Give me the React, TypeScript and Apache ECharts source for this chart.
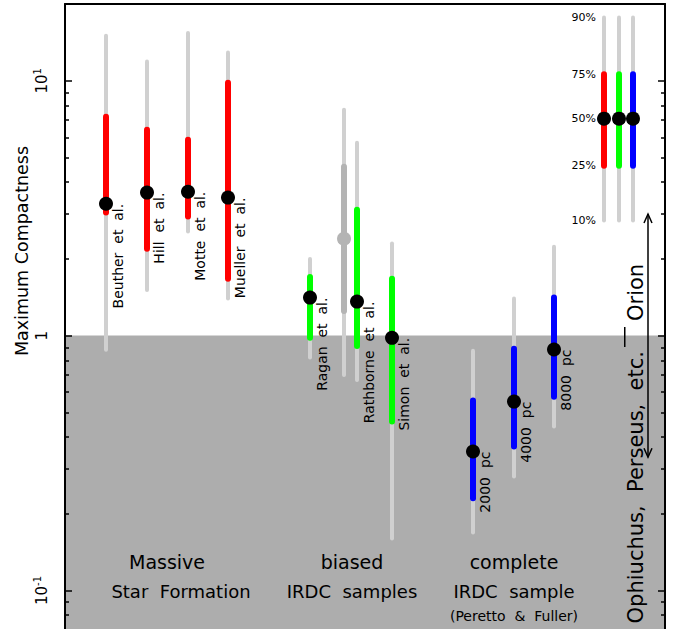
import React, { useEffect, useRef } from 'react';
import * as echarts from 'echarts';

const FONT = 'DejaVu Sans';

// Massive star formation samples (red)
const massiveNames = ['Beuther  et  al.', 'Hill  et  al.', 'Motte  et  al.', 'Mueller  et  al.'];
const massiveX = [41, 82, 123, 163];
const massiveP10 = [0.88, 1.51, 2.56, 1.40];
const massiveP90 = [15.0, 11.9, 15.4, 12.9];
const massiveP25 = [3.04, 2.19, 2.93, 1.67];
const massiveP75 = [7.22, 6.42, 5.87, 9.82];
const massiveMed = [3.29, 3.64, 3.67, 3.48];

// biased IRDC samples (green)
const biasedNames = ['Ragan  et  al.', 'Rathborne  et  al.', 'Simon  et  al.'];
const biasedX = [245, 292, 327];
const biasedP10 = [0.82, 0.67, 0.16];
const biasedP90 = [2.0, 5.71, 2.3];
const biasedP25 = [0.98, 0.91, 0.46];
const biasedP75 = [1.7, 3.12, 1.67];
const biasedMed = [1.41, 1.36, 0.98];

// unlabelled grey sample
const greyNames = [''];
const greyX = [279];
const greyP10 = [0.7];
const greyP90 = [7.7];
const greyP25 = [1.25];
const greyP75 = [4.6];
const greyMed = [2.4];

// complete IRDC sample (blue)
const completeNames = ['2000  pc', '4000  pc', '8000  pc'];
const completeX = [408, 449, 489];
const completeP10 = [0.169, 0.28, 0.44];
const completeP90 = [0.873, 1.4, 2.23];
const completeP25 = [0.23, 0.367, 0.576];
const completeP75 = [0.556, 0.889, 1.41];
const completeMed = [0.351, 0.551, 0.882];

// key (percentile legend)
const keyX = [539, 554, 568];
const keyColors = ['#ff0000', '#00ff00', '#0000ff'];
const keyLevels = [2.83, 4.64, 7.1, 10.6, 17.7];
const keyLabels = ['10%', '25%', '50%', '75%', '90%'];

// Orion arrow
const arrowX = [583];
const arrowRange = [1 / 3, 3];
const shadeLimit = 1;

// axis ticks
const majorTicks = [0.1, 1, 10];
const minorTicks = [0.08, 0.09, 0.2, 0.3, 0.4, 0.5, 0.6, 0.7, 0.8, 0.9, 2, 3, 4, 5, 6, 7, 8, 9];
const yMin = 0.07;
const yMax = 20;

function groupSeries(
  xs: number[], p10: number[], p90: number[], p25: number[], p75: number[], med: number[],
  names: string[], color: string, dotColor: string, outerColor: string
) {
  return {
    type: 'custom',
    z: 5,
    data: xs.map((x, i) => [x, p10[i], p90[i], p25[i], p75[i], med[i]]),
    renderItem: (params: any, api: any) => {
      const x = api.value(0);
      const a = api.coord([x, api.value(1)]);
      const b = api.coord([x, api.value(2)]);
      const c = api.coord([x, api.value(3)]);
      const d = api.coord([x, api.value(4)]);
      const m = api.coord([x, api.value(5)]);
      const children: any[] = [
        { type: 'line', shape: { x1: a[0], y1: a[1], x2: b[0], y2: b[1] }, style: { stroke: outerColor, lineWidth: 4, lineCap: 'round' } },
        { type: 'line', shape: { x1: c[0], y1: c[1], x2: d[0], y2: d[1] }, style: { stroke: color, lineWidth: 6, lineCap: 'round' } },
        { type: 'circle', shape: { cx: m[0], cy: m[1], r: 7 }, style: { fill: dotColor } },
      ];
      const name = names[params.dataIndex];
      if (name) {
        children.push({
          type: 'text', x: m[0] + 12, y: m[1], rotation: Math.PI / 2,
          style: { text: name, align: 'right', verticalAlign: 'middle', fontFamily: FONT, fontSize: 14, fill: '#000' },
        });
      }
      return { type: 'group', children };
    },
  };
}

export default function App() {
  const ref = useRef<HTMLDivElement>(null);
  useEffect(() => {
    if (!ref.current) return;
    const chart = echarts.init(ref.current, undefined, { renderer: 'svg' });
    const yBase = {
      type: 'log', logBase: 10, min: yMin, max: yMax, z: 10,
      splitLine: { show: false },
    };
    const lineStyle = { color: '#000', width: 1.5 };
    const rich = {
      b: { fontFamily: FONT, fontSize: 15, color: '#000', lineHeight: 20 },
      s: { fontFamily: FONT, fontSize: 10, color: '#000', verticalAlign: 'top', lineHeight: 11 },
    };
    const txt = (x: number, y: number, text: string, size: number, extra: any = {}) => ({
      type: 'text', x, y, z: 20, ...extra,
      style: { text, align: 'center', verticalAlign: 'middle', fontFamily: FONT, fontSize: size, fill: '#000', ...(extra.style || {}) },
    });
    const option: any = {
      animation: false,
      grid: { left: 65, right: 13, top: 4, bottom: 10, containLabel: false },
      xAxis: {
        type: 'value', min: 0, max: 600, position: 'top', z: 10,
        axisLine: { show: true, onZero: false, lineStyle: { color: '#000', width: 2 } },
        axisTick: { show: false }, axisLabel: { show: false }, splitLine: { show: false },
      },
      yAxis: [
        {
          ...yBase, position: 'left',
          axisLine: { show: true, onZero: false, lineStyle: { color: '#000', width: 2 } },
          axisTick: { show: true, inside: true, length: 7, customValues: majorTicks, lineStyle },
          axisLabel: {
            show: true, customValues: majorTicks, rotate: 90, margin: 13, rich,
            formatter: (v: number) => {
              const e = Math.round(Math.log10(v));
              if (e === 0) return '{b|1}';
              return '{b|10}{s|' + (e < 0 ? '-' + -e : String(e)) + '}';
            },
          },
        },
        {
          ...yBase, position: 'left',
          axisLine: { show: false },
          axisTick: { show: true, inside: true, length: 4, customValues: minorTicks, lineStyle },
          axisLabel: { show: false },
        },
        {
          ...yBase, position: 'right',
          axisLine: { show: true, onZero: false, lineStyle: { color: '#000', width: 2 } },
          axisTick: { show: true, inside: true, length: 7, customValues: majorTicks, lineStyle },
          axisLabel: { show: false },
        },
        {
          ...yBase, position: 'right',
          axisLine: { show: false },
          axisTick: { show: true, inside: true, length: 4, customValues: minorTicks, lineStyle },
          axisLabel: { show: false },
        },
      ],
      graphic: [
        txt(22, 251, 'Maximum Compactness', 17.5, { rotation: Math.PI / 2 }),
        txt(167, 562, 'Massive', 19),
        txt(181, 591, 'Star  Formation', 18),
        txt(352, 562, 'biased', 19),
        txt(352, 591, 'IRDC  samples', 18),
        txt(514, 562, 'complete', 19),
        txt(514, 591, 'IRDC  sample', 18),
        txt(514, 616, '(Peretto  &  Fuller)', 14),
        txt(636, 351, 'Ophiuchus,  Perseus,  etc.', 21, { rotation: Math.PI / 2, style: { align: 'right' } }),
        txt(636, 321, 'Orion', 21, { rotation: Math.PI / 2, style: { align: 'left' } }),
        { type: 'rect', shape: { x: 624, y: 327, width: 1.5, height: 20 }, style: { fill: '#000' }, z: 20 },
      ],
      series: [
        {
          type: 'line', data: [], z: 1,
          markArea: {
            silent: true,
            itemStyle: { color: '#adadad' },
            data: [[{ yAxis: yMin }, { yAxis: shadeLimit }]],
          },
        },
        groupSeries(massiveX, massiveP10, massiveP90, massiveP25, massiveP75, massiveMed, massiveNames, '#ff0000', '#000', '#d0d0d0'),
        groupSeries(greyX, greyP10, greyP90, greyP25, greyP75, greyMed, greyNames, '#b4b4b4', '#b4b4b4', '#d0d0d0'),
        groupSeries(biasedX, biasedP10, biasedP90, biasedP25, biasedP75, biasedMed, biasedNames, '#00ff00', '#000', '#d0d0d0'),
        groupSeries(completeX, completeP10, completeP90, completeP25, completeP75, completeMed, completeNames, '#0000ff', '#000', '#d0d0d0'),
        {
          type: 'custom', z: 5,
          data: keyX.map((x) => [x, keyLevels[0], keyLevels[4], keyLevels[1], keyLevels[3], keyLevels[2]]),
          renderItem: (params: any, api: any) => {
            const x = api.value(0);
            const a = api.coord([x, api.value(1)]);
            const b = api.coord([x, api.value(2)]);
            const c = api.coord([x, api.value(3)]);
            const d = api.coord([x, api.value(4)]);
            const m = api.coord([x, api.value(5)]);
            return {
              type: 'group', children: [
                { type: 'line', shape: { x1: a[0], y1: a[1], x2: b[0], y2: b[1] }, style: { stroke: '#d0d0d0', lineWidth: 4, lineCap: 'round' } },
                { type: 'line', shape: { x1: c[0], y1: c[1], x2: d[0], y2: d[1] }, style: { stroke: keyColors[params.dataIndex], lineWidth: 6, lineCap: 'round' } },
                { type: 'circle', shape: { cx: m[0], cy: m[1], r: 7 }, style: { fill: '#000' } },
              ],
            };
          },
        },
        {
          type: 'custom', z: 5,
          data: keyLevels.map((v, i) => [keyX[0], v, i]),
          renderItem: (params: any, api: any) => {
            const p = api.coord([api.value(0), api.value(1)]);
            return {
              type: 'text', x: p[0] - 8, y: p[1],
              style: { text: keyLabels[params.dataIndex], align: 'right', verticalAlign: 'middle', fontFamily: FONT, fontSize: 11, fill: '#000' },
            };
          },
        },
        {
          type: 'custom', z: 6,
          data: arrowX.map((x) => [x, arrowRange[0], arrowRange[1]]),
          renderItem: (params: any, api: any) => {
            const x = api.value(0);
            const lo = api.coord([x, api.value(1)]);
            const hi = api.coord([x, api.value(2)]);
            const st = { stroke: '#000', lineWidth: 1.5, fill: 'none' };
            return {
              type: 'group', children: [
                { type: 'line', shape: { x1: lo[0], y1: lo[1], x2: hi[0], y2: hi[1] }, style: st },
                { type: 'polyline', shape: { points: [[hi[0] - 4, hi[1] + 9], [hi[0], hi[1]], [hi[0] + 4, hi[1] + 9]] }, style: st },
                { type: 'polyline', shape: { points: [[lo[0] - 4, lo[1] - 9], [lo[0], lo[1]], [lo[0] + 4, lo[1] - 9]] }, style: st },
              ],
            };
          },
        },
      ],
    };
    chart.setOption(option);
    return () => chart.dispose();
  }, []);
  return <div ref={ref} style={{ position: 'fixed', left: 0, top: 0, width: 678, height: 640, background: '#fff' }} />;
}
